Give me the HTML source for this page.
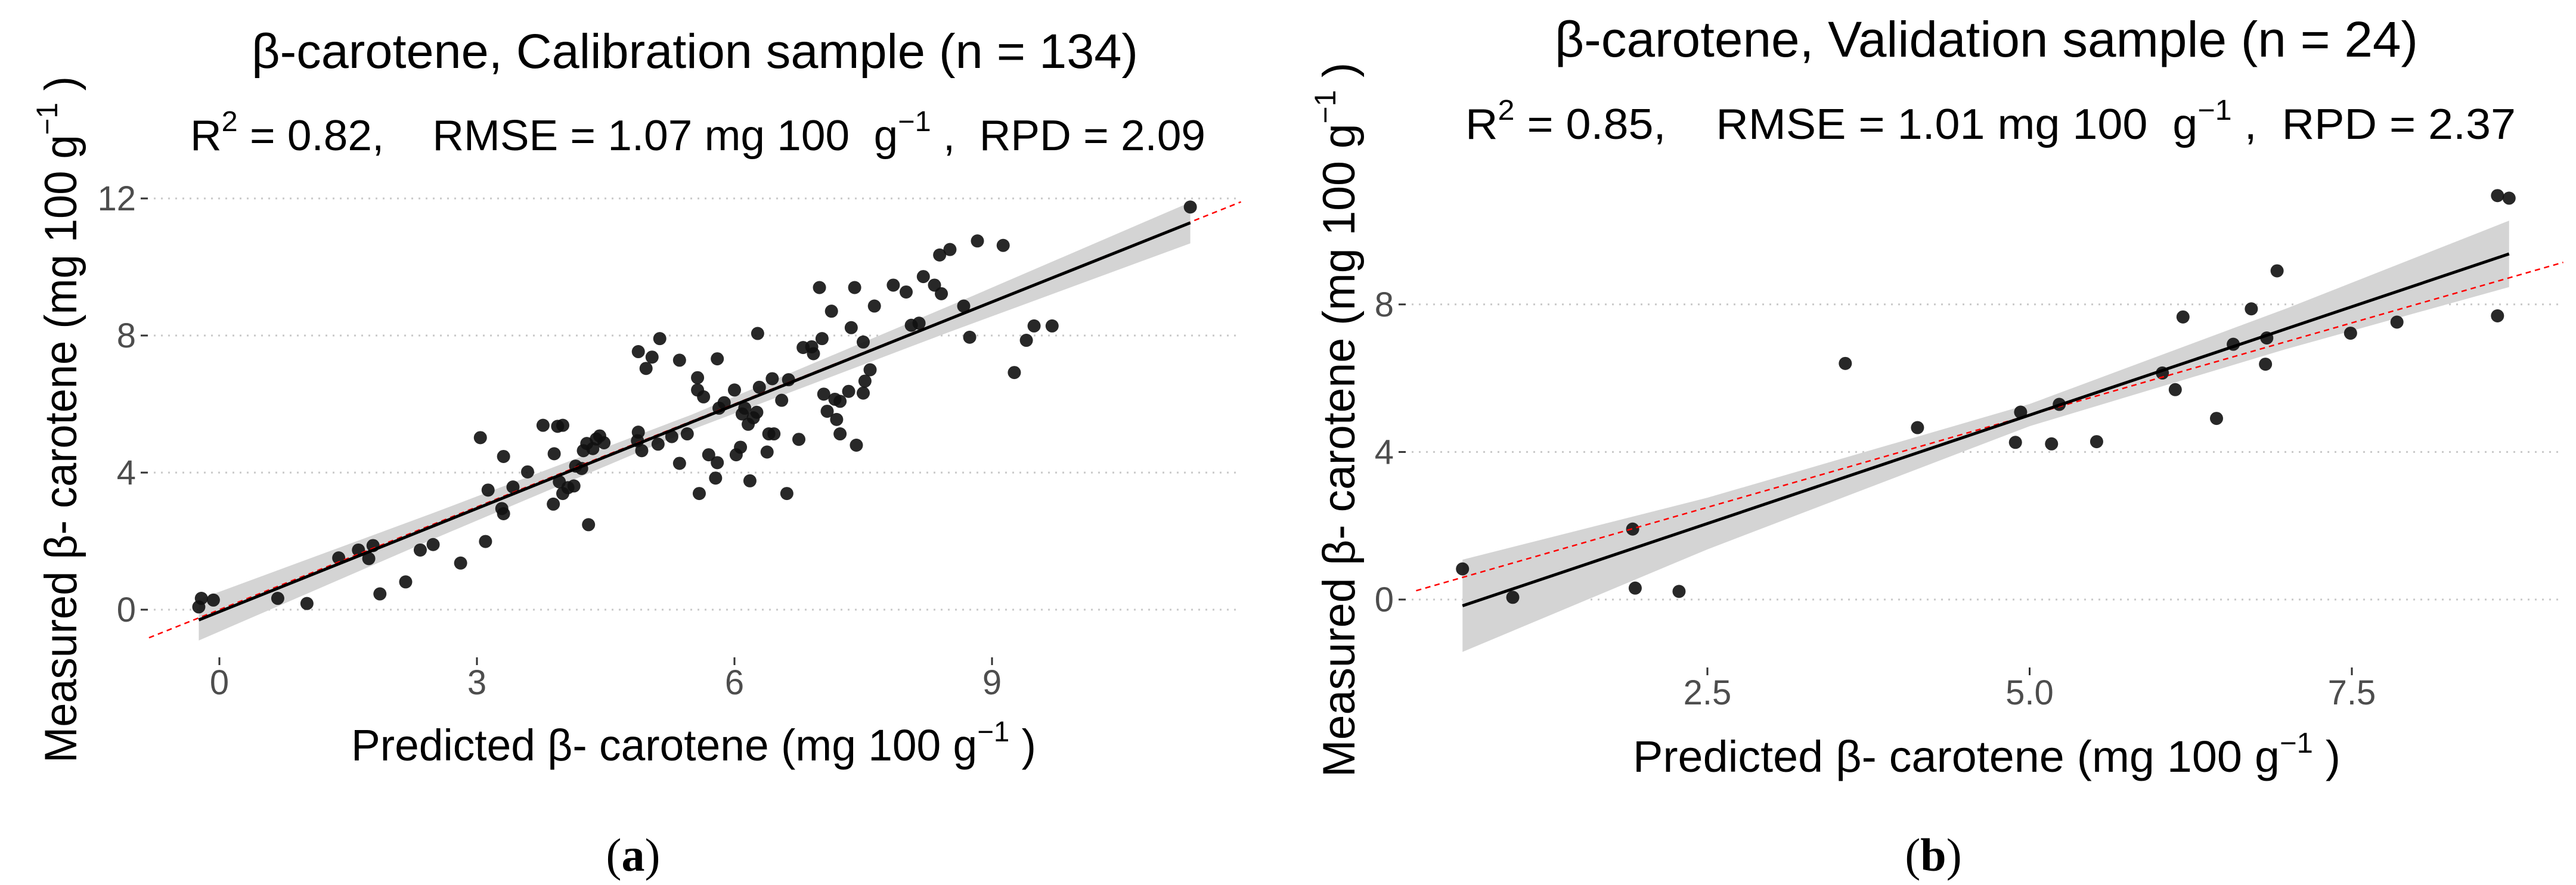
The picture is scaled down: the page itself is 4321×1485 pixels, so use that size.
<!DOCTYPE html>
<html><head><meta charset="utf-8"><style>
html,body{margin:0;padding:0;background:#fff;}
svg{display:block;font-family:"Liberation Sans",Arial,sans-serif;}
</style></head><body>
<svg id="fig" xmlns="http://www.w3.org/2000/svg" width="4321" height="1485" viewBox="0 0 4321 1485">
<g id="pa"></g>
<g id="pb"></g>
</svg>
<script>
// ---------- Panel A data ----------
const aPredX = [-0.24,-0.21,-0.07,0.68,1.02,1.39,1.62,1.74,1.79,1.87,2.17,2.34,2.49,2.81,3.04,3.10,3.13,3.29,3.31,3.31,3.42,3.59,3.77,3.89,3.90,3.94,4.0,3.96,4.0,4.06,4.13,4.15,4.22,4.24,4.28,4.30,4.35,4.39,4.43,4.48,4.88,4.88,4.87,4.92,4.97,5.04,5.11,5.13,5.27,5.36,5.36,5.45,5.57,5.57,5.59,5.64,5.70,5.78,5.80,5.80,5.82,5.88,6.0,6.02,6.07,6.09,6.12,6.16,6.18,6.22,6.26,6.27,6.29,6.38,6.40,6.44,6.46,6.55,6.61,6.63,6.75,6.80,6.90,6.92,6.99,7.02,7.04,7.08,7.13,7.17,7.19,7.23,7.23,7.33,7.36,7.40,7.42,7.50,7.50,7.52,7.58,7.63,7.85,8.0,8.06,8.15,8.20,8.33,8.41,8.39,8.51,8.67,8.74,8.83,9.13,9.26,9.40,9.49,9.70,11.31];
const aMeasY = [0.08,0.33,0.28,0.33,0.18,1.51,1.74,1.49,1.87,0.46,0.81,1.74,1.90,1.36,5.02,1.99,3.49,2.95,4.47,2.80,3.58,4.02,5.38,3.08,4.55,5.35,5.38,3.73,3.39,3.56,3.61,4.19,4.12,4.64,4.85,2.48,4.70,4.98,5.07,4.87,7.53,5.18,4.93,4.64,7.04,7.37,4.83,7.91,5.05,7.28,4.27,5.13,6.77,6.41,3.39,6.21,4.52,3.84,4.29,7.32,5.88,6.04,6.41,4.52,4.74,5.71,5.88,5.41,3.76,5.60,5.76,8.06,6.49,4.60,5.13,6.74,5.13,6.11,3.39,6.71,4.97,7.65,7.67,7.47,9.40,7.91,6.29,5.79,8.71,6.14,5.55,6.08,5.13,6.37,8.23,9.40,4.80,7.81,6.32,6.67,7.0,8.86,9.47,9.27,8.30,8.36,9.72,9.47,9.22,10.35,10.51,8.86,7.95,10.76,10.63,6.92,7.86,8.28,8.28,11.75];
const aFitX = [-0.24, 2.5, 5.5, 8.5, 11.31];
const aFitY = [-0.30, 2.45, 5.47, 8.48, 11.29];
const aBandHalf = [0.60, 0.38, 0.22, 0.38, 0.60];
const aIdentX = [-0.82, 11.9];
const aYTicks = [0, 4, 8, 12];
const aYTickLabels = ["0", "4", "8", "12"];
const aXTicks = [0, 3, 6, 9];
const aXTickLabels = ["0", "3", "6", "9"];

// ---------- Panel B data ----------
const bPredX = [0.60,0.99,1.92,1.94,2.28,3.57,4.13,4.89,4.93,5.17,5.23,5.52,6.03,6.13,6.19,6.45,6.58,6.72,6.83,6.84,6.92,7.49,7.85,8.63,8.63,8.72];
const bMeasY = [0.83,0.06,1.91,0.31,0.22,6.40,4.66,4.26,5.08,4.22,5.29,4.28,6.14,5.69,7.66,4.91,6.92,7.88,6.38,7.09,8.91,7.22,7.52,7.69,10.95,10.88];
const bFitX = [0.60, 2.5, 5.0, 7.0, 8.72];
const bFitY = [-0.17, 2.06, 5.0, 7.35, 9.37];
const bBandHalf = [1.25, 0.70, 0.30, 0.55, 0.90];
const bIdentX = [0.24, 9.14];
const bYTicks = [0, 4, 8];
const bYTickLabels = ["0", "4", "8"];
const bXTicks = [2.5, 5.0, 7.5];
const bXTickLabels = ["2.5", "5.0", "7.5"];

const NS = "http://www.w3.org/2000/svg";
function mk(tag, attrs, parent){ const e=document.createElementNS(NS,tag); for(const k in attrs) e.setAttribute(k,attrs[k]); parent.appendChild(e); return e; }

function drawPanel(g, cfg){
  const sx = v => cfg.x0 + cfg.kx*v;
  const sy = v => cfg.y0 - cfg.ky*v;
  cfg.yTicks.forEach((t,i)=>{
    const gl = mk('line',{x1:cfg.gridL,x2:cfg.gridR,y1:sy(t),y2:sy(t),stroke:'#c8c8c8','stroke-width':3,'stroke-dasharray':'3 9'},g);
    
    
    const tk = mk('line',{x1:cfg.gridL-22,x2:cfg.gridL-10,y1:sy(t),y2:sy(t),stroke:'#333','stroke-width':3},g);
    
    
    const tl = mk('text',{x:cfg.gridL-30,y:sy(t)+20,'text-anchor':'end','font-size':58,fill:'#4d4d4d'},g);
    
    
    tl.textContent = cfg.yTickLabels[i];
  });
  cfg.xTicks.forEach((t,i)=>{
    const tk = mk('line',{x1:sx(t),x2:sx(t),y1:cfg.xTickY,y2:cfg.xTickY+13,stroke:'#333','stroke-width':3},g);
    
    
    const tl = mk('text',{x:sx(t),y:cfg.xTickY+62,'text-anchor':'middle','font-size':58,fill:'#4d4d4d'},g);
    
    
    tl.textContent = cfg.xTickLabels[i];
  });
  let up=[], lo=[];
  cfg.fitX.forEach((x,i)=>{ up.push(sx(x)+','+sy(cfg.fitY[i]+cfg.band[i])); lo.unshift(sx(x)+','+sy(cfg.fitY[i]-cfg.band[i])); });
  const band = mk('polygon',{points:up.concat(lo).join(' '),fill:'#d4d4d4'},g);
  
  
  cfg.px.forEach((x,i)=>{
    const c = mk('circle',{cx:sx(x),cy:sy(cfg.py[i]),r:11,fill:'#111','fill-opacity':0.9},g);
    
    
  });
  const il = mk('line',{x1:sx(cfg.ident[0]),y1:sy(cfg.ident[0]),x2:sx(cfg.ident[1]),y2:sy(cfg.ident[1]),stroke:'#ff0000','stroke-width':2.5,'stroke-dasharray':'9 7'},g);
  
  
  const fl = mk('polyline',{points:cfg.fitX.map((x,i)=>sx(x)+','+sy(cfg.fitY[i])).join(' '),fill:'none',stroke:'#000','stroke-width':5},g);
  
  
}

drawPanel(document.getElementById('pa'),{x0:368,kx:144,y0:1023,ky:57.5,gridL:258,gridR:2082,xTickY:1103,
  yTicks:aYTicks,yTickLabels:aYTickLabels,xTicks:aXTicks,xTickLabels:aXTickLabels,
  fitX:aFitX,fitY:aFitY,band:aBandHalf,px:aPredX,py:aMeasY,ident:aIdentX});
drawPanel(document.getElementById('pb'),{x0:2323.5,kx:216.2,y0:1006,ky:61.9,gridL:2368,gridR:4300,xTickY:1120,
  yTicks:bYTicks,yTickLabels:bYTickLabels,xTicks:bXTicks,xTickLabels:bXTickLabels,
  fitX:bFitX,fitY:bFitY,band:bBandHalf,px:bPredX,py:bMeasY,ident:bIdentX});
</script>
<svg style="position:absolute;left:0;top:0" width="4321" height="1485" viewBox="0 0 4321 1485" xmlns="http://www.w3.org/2000/svg" font-family="Liberation Sans, Arial, sans-serif">
  <text x="422" y="114" font-size="82" textLength="1487" lengthAdjust="spacingAndGlyphs">β-carotene, Calibration sample (n = 134)</text>
  <text x="319" y="252" font-size="72" textLength="1703" lengthAdjust="spacingAndGlyphs" xml:space="preserve">R<tspan dy="-32" font-size="48">2</tspan><tspan dy="32"> = 0.82,    RMSE = 1.07 mg 100  g</tspan><tspan dy="-32" font-size="48">−1</tspan><tspan dy="32"> ,  RPD = 2.09</tspan></text>
  <text x="589" y="1276" font-size="74" textLength="1149" lengthAdjust="spacingAndGlyphs" xml:space="preserve">Predicted β- carotene (mg 100 g<tspan dy="-32" font-size="48">−1</tspan><tspan dy="32"> )</tspan></text>
  <text transform="translate(128,1280) rotate(-90)" x="0" y="0" font-size="76" textLength="1152" lengthAdjust="spacingAndGlyphs" xml:space="preserve">Measured β- carotene (mg 100 g<tspan dy="-32" font-size="50">−1</tspan><tspan dy="32"> )</tspan></text>
  <text x="1062" y="1461" font-size="78" text-anchor="middle" font-family="Liberation Serif, serif">(<tspan font-weight="bold">a</tspan>)</text>

  <text x="2608" y="95" font-size="84" textLength="1448" lengthAdjust="spacingAndGlyphs">β-carotene, Validation sample (n = 24)</text>
  <text x="2458" y="233" font-size="72" textLength="1762" lengthAdjust="spacingAndGlyphs" xml:space="preserve">R<tspan dy="-32" font-size="48">2</tspan><tspan dy="32"> = 0.85,    RMSE = 1.01 mg 100  g</tspan><tspan dy="-32" font-size="48">−1</tspan><tspan dy="32"> ,  RPD = 2.37</tspan></text>
  <text x="2739" y="1295" font-size="74" textLength="1187" lengthAdjust="spacingAndGlyphs" xml:space="preserve">Predicted β- carotene (mg 100 g<tspan dy="-32" font-size="48">−1</tspan><tspan dy="32"> )</tspan></text>
  <text transform="translate(2272,1304) rotate(-90)" x="0" y="0" font-size="76" textLength="1199" lengthAdjust="spacingAndGlyphs" xml:space="preserve">Measured β- carotene (mg 100 g<tspan dy="-32" font-size="50">−1</tspan><tspan dy="32"> )</tspan></text>
  <text x="3243" y="1461" font-size="78" text-anchor="middle" font-family="Liberation Serif, serif">(<tspan font-weight="bold">b</tspan>)</text>
</svg>
</body></html>
